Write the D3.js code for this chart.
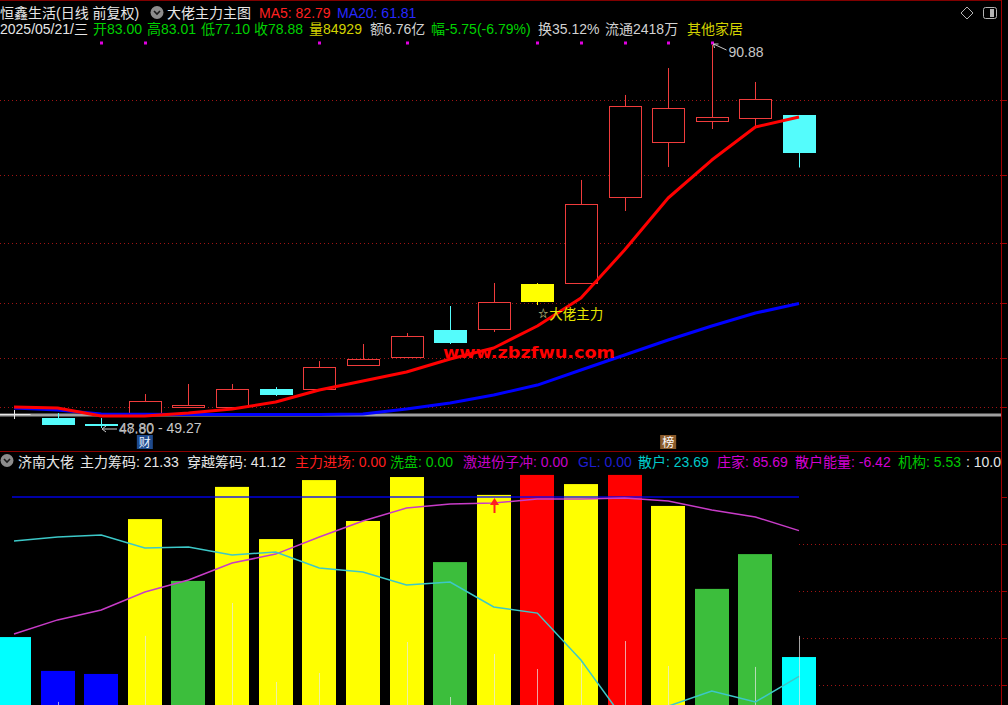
<!DOCTYPE html>
<html><head><meta charset="utf-8">
<script src="https://cdnjs.cloudflare.com/ajax/libs/d3/7.8.5/d3.min.js"></script>
<style>html,body{margin:0;padding:0;background:#000;overflow:hidden}svg{display:block}</style>
</head><body><svg id="c" width="1008" height="705"></svg>
<script>
// ---------- data ----------
const idx   = [0,1,2,3,4,5,6,7,8,9,10,11,12,13,14,15,16,17,18];
const open  = [49.37,48.92,48.25,49.48,50.15,50.16,52.18,52.18,54.88,55.78,58.82,58.93,62.08,64.11,73.78,79.97,82.33,82.67,83.00];
const high  = [49.82,49.48,48.92,51.62,52.75,52.75,52.40,55.33,57.25,58.48,61.52,64.11,64.10,75.70,85.26,88.29,90.88,86.72,83.01];
const low   = [48.81,48.20,47.80,49.40,50.10,50.10,51.40,52.10,54.80,55.70,57.25,58.60,61.63,64.00,72.21,77.16,81.43,81.66,77.10];
const close = [49.37,48.25,48.10,50.83,50.40,52.18,51.62,54.66,55.56,58.15,57.47,61.97,63.99,73.00,84.02,83.79,82.78,84.81,78.88];
const ma5   = [50.16,50.05,49.15,49.15,49.49,49.94,50.72,52.07,53.08,54.10,55.56,56.80,59.27,62.42,67.82,73.67,77.94,81.66,82.79];
const ma20  = [50.05,49.82,49.37,49.35,49.32,49.32,49.32,49.32,49.37,49.94,50.61,51.51,52.63,54.32,56.01,57.70,59.27,60.73,61.81];
const highlightIdx = [12];               // yellow "大佬主力" candle
const dotIdx = [2,3,7,9,12,13,14,15,16]; // magenta signal dots
const gridPrices = [50.16,55.67,61.86,68.61,76.26,84.69];
const refPrice = 49.27;
const maxPrice = 90.88, minPrice = 47.80;

const barVals  = [40.4,26.0,24.7,90.6,64.3,104.3,82.1,107.2,89.8,108.5,72.3,100.9,109.4,105.5,109.4,96.2,60.9,75.7,31.9];
const barKinds = ['cyan','blue','blue','yellow','green','yellow','yellow','yellow','yellow','yellow','green','yellow','red','yellow','red','yellow','green','green','cyan'];
const stickVals = [9,12.8,9,40.9,9,54.9,21.3,25.1,9,38.3,14.9,33.2,26.8,29.4,38.7,28.1,9,27.7,40.9];
const zhuangjia = [41.7,47.7,51.9,59.6,64.7,71.9,75.7,83.0,89.8,95.3,97.0,97.4,99.1,99.1,99.6,98.3,94.5,91.5,85.69];
const sanhu     = [81.3,83.0,83.8,78.3,78.7,75.3,76.6,69.8,68.1,62.6,63.8,53.2,50.6,30.6,5.0,11.0,17.4,12.8,23.69];
const lowerGrid = [20,40,60,80];
const topLevel = 100;
const arrowIdx = 11;

const kindColor = {cyan:'#00ffff', blue:'#0000ff', yellow:'#ffff00', green:'#3cbe3c', red:'#ff0000'};

// ---------- setup ----------
const svg = d3.select('#c');
const FONT = '"Liberation Sans","Noto Sans CJK SC",sans-serif';
svg.append('rect').attr('width',1008).attr('height',705).attr('fill','#000');
const defs = svg.append('defs');
defs.append('clipPath').attr('id','cm').append('rect').attr('x',0).attr('y',0).attr('width',1001).attr('height',450);
defs.append('clipPath').attr('id','cl').append('rect').attr('x',0).attr('y',452).attr('width',1001).attr('height',253);
defs.append('clipPath').attr('id','ct').append('rect').attr('x',0).attr('y',0).attr('width',1001).attr('height',705);

const x  = d3.scaleLinear().domain([0, idx.length-1]).range([14, 799]);
const yM = d3.scaleLinear().domain([minPrice, maxPrice]).range([428, 45]);
const yL = d3.scaleLinear().domain([0, 100]).range([732, 497]);
const half = 16;

// ---------- main panel ----------
const gM = svg.append('g').attr('clip-path','url(#cm)');
gM.selectAll('line.g').data(gridPrices).join('line')
  .attr('x1',0).attr('x2',1001)
  .attr('y1',d=>Math.round(yM(d))+0.5).attr('y2',d=>Math.round(yM(d))+0.5)
  .attr('stroke','#a01414').attr('stroke-dasharray','1,3');

gM.append('line').attr('x1',0).attr('x2',1001)
  .attr('y1',yM(refPrice)).attr('y2',yM(refPrice))
  .attr('stroke','#a0a0a0').attr('stroke-width',3);

idx.forEach(i => {
  const o=open[i], h=high[i], l=low[i], c=close[i];
  const cx = Math.round(x(i)) + 0.5;
  let col;
  if (o === c) col = '#e8e8e8';
  else if (highlightIdx.includes(i)) col = '#ffff00';
  else if (c > o) col = '#f03c3c';
  else col = '#54fcfc';
  const g = gM.append('g');
  g.append('line').attr('x1',cx).attr('x2',cx).attr('y1',yM(h)).attr('y2',yM(l)).attr('stroke',col);
  if (o === c) {
    g.append('line').attr('x1',cx-half).attr('x2',cx+half)
      .attr('y1',Math.round(yM(c))+0.5).attr('y2',Math.round(yM(c))+0.5).attr('stroke',col);
  } else {
    const yt = yM(Math.max(o,c)), yb = yM(Math.min(o,c));
    const fill = highlightIdx.includes(i) ? '#ffff00' : (c > o ? '#000' : '#54fcfc');
    g.append('rect').attr('x',cx-half).attr('y',Math.round(yt)+0.5)
      .attr('width',2*half).attr('height',Math.max(1,Math.round(yb-yt)))
      .attr('fill',fill).attr('stroke',col);
  }
});

gM.append('path').datum(ma20).attr('d', d3.line().x((d,i)=>x(i)).y(d=>yM(d))).attr('fill','none')
  .attr('stroke','#0000ff').attr('stroke-width',3).attr('stroke-linejoin','round');
gM.append('path').datum(ma5).attr('d', d3.line().x((d,i)=>x(i)).y(d=>yM(d))).attr('fill','none')
  .attr('stroke','#ff0000').attr('stroke-width',3).attr('stroke-linejoin','round');

// magenta dots
gM.selectAll('rect.dot').data(dotIdx).join('rect')
  .attr('x',d=>Math.round(x(d))-1).attr('y',41.5).attr('width',3).attr('height',3).attr('fill','#e000e0');

// watermark
gM.append('text').attr('x',443).attr('y',357.5).text('www.zbzfwu.com')
  .attr('font-family','"DejaVu Sans",sans-serif').attr('font-weight','bold').attr('font-size',15)
  .attr('textLength',172).attr('lengthAdjust','spacingAndGlyphs').attr('fill','#ff0000');

// signal label
const hi = highlightIdx[0];
gM.append('text').attr('x',x(hi)+1).attr('y',317).text('☆')
  .attr('font-family',FONT).attr('font-size',10).attr('fill','#e0e0a0');
gM.append('text').attr('x',x(hi)+12).attr('y',319).text('大佬主力')
  .attr('font-family',FONT).attr('font-size',13.5).attr('fill','#e6e600');

// max annotation
const hiIdx = high.indexOf(d3.max(high));
const hx = Math.round(x(hiIdx))+0.5, hy = yM(high[hiIdx]);
gM.append('path').attr('d',`M${hx+1},${hy-1}L${hx+14},${hy+5}M${hx+1},${hy-1}l5,0M${hx+1},${hy-1}l1,4`)
  .attr('stroke','#c8c8c8').attr('fill','none');
gM.append('text').attr('x',hx+16).attr('y',hy+12).text(high[hiIdx].toFixed(2))
  .attr('font-family',FONT).attr('font-size',14).attr('fill','#c8c8c8');

// min annotation
const loIdx = low.indexOf(d3.min(low));
const lx = Math.round(x(loIdx))+1, ly = yM(low[loIdx])+1;
gM.append('path').attr('d',`M${lx},${ly}L${lx+15},${ly}M${lx},${ly}l4,-3M${lx},${ly}l4,3`)
  .attr('stroke','#c8c8c8').attr('fill','none');
gM.append('text').attr('x',lx+17).attr('y',ly+4).text('48.80 - 49.27')
  .attr('font-family',FONT).attr('font-size',14).attr('fill','#c8c8c8');
gM.append('text').attr('x',lx+17).attr('y',ly+5).text(low[loIdx].toFixed(2))
  .attr('font-family',FONT).attr('font-size',14).attr('fill','#b0b0b0').attr('opacity',0.8);

// 财 / 榜 tags
[[3,'财','#1e4a8c','#e8f0ff'],[15,'榜','#8a5a2a','#ffffff']].forEach(([i,t,bg,fg])=>{
  const cx = x(i);
  gM.append('rect').attr('x',cx-8).attr('y',435).attr('width',16).attr('height',14).attr('fill',bg);
  gM.append('text').attr('x',cx).attr('y',447).attr('text-anchor','middle').text(t)
    .attr('font-family',FONT).attr('font-size',12).attr('fill',fg);
});

// ---------- lower panel ----------
const gL = svg.append('g').attr('clip-path','url(#cl)');
gL.selectAll('line.lg').data(lowerGrid).join('line')
  .attr('x1',x(idx.length-1)).attr('x2',1001)
  .attr('y1',d=>Math.round(yL(d))+0.5).attr('y2',d=>Math.round(yL(d))+0.5)
  .attr('stroke','#a01414').attr('stroke-dasharray','1,3');

gL.selectAll('rect.bar').data(idx).join('rect')
  .attr('x',i=>Math.round(x(i))-17).attr('width',34)
  .attr('y',i=>yL(barVals[i])).attr('height',i=>yL(0)-yL(barVals[i]))
  .attr('fill',i=>kindColor[barKinds[i]]);

gL.selectAll('line.stick').data(idx).join('line')
  .attr('x1',i=>Math.round(x(i))+0.5).attr('x2',i=>Math.round(x(i))+0.5)
  .attr('y1',i=>yL(stickVals[i])).attr('y2',yL(0))
  .attr('stroke','#e8e8e8').attr('stroke-opacity',0.7);

gL.append('line').attr('x1',x(0)-2).attr('x2',x(idx.length-1))
  .attr('y1',yL(topLevel)).attr('y2',yL(topLevel))
  .attr('stroke','#0000ff').attr('stroke-width',2).attr('stroke-opacity',0.65);

gL.append('path').datum(zhuangjia).attr('d', d3.line().x((d,i)=>x(i)).y(d=>yL(d)))
  .attr('fill','none').attr('stroke','#c83cc8').attr('stroke-width',1.5);
gL.append('path').datum(sanhu).attr('d', d3.line().x((d,i)=>x(i)).y(d=>yL(d)))
  .attr('fill','none').attr('stroke','#3cc8c8').attr('stroke-width',1.5);

// red arrow
const ax = Math.round(x(arrowIdx))+0.5, ay = yL(topLevel)+1;
gL.append('path').attr('d',`M${ax},${ay}L${ax-4.5},${ay+7}L${ax+4.5},${ay+7}Z`).attr('fill','#ff2020');
gL.append('rect').attr('x',ax-1).attr('y',ay+6).attr('width',2).attr('height',9).attr('fill','#ff2020');

// ---------- frame ----------
svg.append('line').attr('x1',0).attr('x2',1001).attr('y1',0.5).attr('y2',0.5).attr('stroke','#800000');
svg.append('line').attr('x1',0).attr('x2',1001).attr('y1',451.5).attr('y2',451.5).attr('stroke','#8c0000');
svg.append('line').attr('x1',1001.5).attr('x2',1001.5).attr('y1',0).attr('y2',705).attr('stroke','#a00000');
svg.selectAll('line.rt').data(gridPrices).join('line')
  .attr('x1',1001).attr('x2',1007).attr('y1',d=>Math.round(yM(d))+0.5).attr('y2',d=>Math.round(yM(d))+0.5).attr('stroke','#a00000');
svg.selectAll('line.rt2').data(lowerGrid.concat([topLevel])).join('line')
  .attr('x1',1001).attr('x2',1007).attr('y1',d=>Math.round(yL(d))+0.5).attr('y2',d=>Math.round(yL(d))+0.5).attr('stroke','#a00000');

// ---------- header texts ----------
function seg(g, xx, yy, t, col){
  g.append('text').attr('x',xx).attr('y',yy).text(t)
   .attr('font-family',FONT).attr('font-size',14).attr('fill',col);
}
function chevron(cx, cy){
  svg.append('circle').attr('cx',cx).attr('cy',cy).attr('r',6.5).attr('fill','#8c8c8c');
  svg.append('path').attr('d',`M${cx-3},${cy-1.5}L${cx},${cy+1.5}L${cx+3},${cy-1.5}`)
    .attr('stroke','#1a1a1a').attr('stroke-width',1.6).attr('fill','none');
}
const gH = svg.append('g').attr('clip-path','url(#ct)');
const W1 = '#e6e6e6', GR = '#00d200', YL = '#d2d200', GY = '#d2d2d2';
seg(gH,0,18,'恒鑫生活(日线 前复权)',W1);
chevron(157,12.5);
seg(gH,167,18,'大佬主力主图',W1);
seg(gH,259,18,'MA5: ' + ma5[ma5.length-1].toFixed(2),'#ff2020');
seg(gH,337,18,'MA20: ' + ma20[ma20.length-1].toFixed(2),'#2828ff');

seg(gH,0,34,'2025/05/21/三',W1);
seg(gH,93,34,'开83.00',GR);
seg(gH,147,34,'高83.01',GR);
seg(gH,201,34,'低77.10',GR);
seg(gH,254,34,'收78.88',GR);
seg(gH,309,34,'量84929',YL);
seg(gH,370,34,'额6.76亿',GY);
seg(gH,431,34,'幅-5.75(-6.79%)',GR);
seg(gH,538,34,'换35.12%',GY);
seg(gH,605,34,'流通2418万',GY);
seg(gH,687,34,'其他家居',YL);

// top-right icons
svg.append('path').attr('d','M967,7L973,13L967,19L961,13Z').attr('fill','none').attr('stroke','#b4b4b4');
svg.append('rect').attr('x',983.5).attr('y',7.5).attr('width',13).attr('height',11).attr('rx',2)
  .attr('fill','none').attr('stroke','#b4b4b4');
svg.append('rect').attr('x',990).attr('y',9).attr('width',4).attr('height',8).attr('fill','#b4b4b4');

// lower header
chevron(7,460.5);
seg(gH,18,467,'济南大佬',W1);
seg(gH,80,467,'主力筹码: 21.33',W1);
seg(gH,187,467,'穿越筹码: 41.12',W1);
seg(gH,295,467,'主力进场: 0.00','#ff1e1e');
seg(gH,390,467,'洗盘: 0.00','#00c800');
seg(gH,463,467,'激进份子冲: 0.00','#c800c8');
seg(gH,578,467,'GL: 0.00','#1e1ed2');
seg(gH,638,467,'散户: ' + sanhu[sanhu.length-1].toFixed(2),'#00c8c8');
seg(gH,717,467,'庄家: ' + zhuangjia[zhuangjia.length-1].toFixed(2),'#d200d2');
seg(gH,795,467,'散户能量: -6.42','#d200d2');
seg(gH,898,467,'机构: 5.53','#00c800');
seg(gH,966,467,': 10.0',W1);
</script></body></html>
